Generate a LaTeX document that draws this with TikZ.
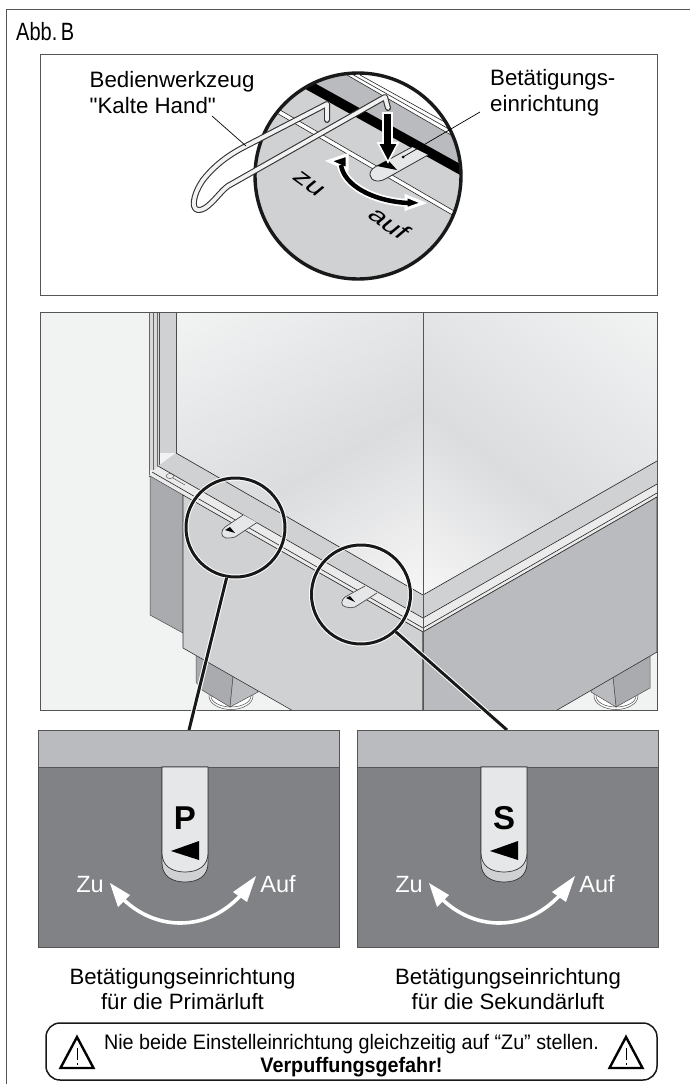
\documentclass[tikz,border=0pt]{standalone}
\usepackage{fontspec}
\setmainfont{Liberation Sans}
\newfontfamily\narrowf[FakeStretch=0.8]{Liberation Sans}
\newfontfamily\warnf[FakeStretch=0.94]{Liberation Sans}
\newfontfamily\widef[FakeStretch=1.3,FakeSlant=0.25]{Liberation Sans}
\newfontfamily\plainf[Ligatures=ResetAll]{Liberation Sans}
\definecolor{bandg}{HTML}{CFD1D3}
\definecolor{bodyr}{HTML}{B9BBBE}
\definecolor{sideg}{HTML}{A9ABAE}
\definecolor{darkp}{HTML}{808285}
\definecolor{bgg}{HTML}{F1F2F2}
\definecolor{framec}{HTML}{555555}
\definecolor{hand}{HTML}{E6E7E8}
\definecolor{ridge}{HTML}{DBDCDE}
\definecolor{glassa}{HTML}{F2F3F3}
\definecolor{glassb}{HTML}{F6F6F6}
\tikzset{
  panel/.style={draw=framec,line width=0.9pt},
  thin line/.style={draw=black!85,line width=0.6pt},
  loupe/.style={circle,minimum size=99pt,inner sep=0pt,draw=black!90,line width=3pt},
  halo/.style={draw=white,line width=5pt},
  lead/.style={draw=black!90,line width=3pt},
  txt/.style={inner sep=0pt,align=left,font=\plainf\fontsize{22.3}{26}\selectfont},
  captxt/.style={inner sep=0pt,align=center,font=\fontsize{22.2}{25}\selectfont},
  tooledge/.style={line join=round,line cap=round},
}
\newcommand{\toolpath}{(327,120) -- (327,104) -- (246,146) .. controls (228,155) and (214,166) .. (203,180) .. controls (196,190) and (193,200) .. (194,206) .. controls (195,211) and (200,211) .. (205,208) .. controls (214,202) and (220,192) .. (228,186) -- (385,97) -- (388,108)}
\newcommand{\lowerpanel}[2]{%
 \begin{scope}[shift={(#1,0)},name prefix=#2-]
  \fill[darkp] (38,767) rectangle (339,947);
  \fill[bodyr] (38,730) rectangle (339,767);
  \draw[panel] (38,730) rectangle (339,947);
  \draw[panel] (38,767) -- (339,767);
  \path[fill=bandg,draw=black!80,line width=.7pt] (162,767) -- (162,863) .. controls (162,876) and (172,882) .. (185,882) .. controls (198,882) and (208,876) .. (208,863) -- (208,767) -- cycle;
  \path[fill=hand,draw=black!80,line width=.7pt] (162,767) -- (162,853) .. controls (162,866) and (172,872) .. (185,872) .. controls (198,872) and (208,866) .. (208,853) -- (208,767) -- cycle;
  \node[inner sep=0pt,font=\bfseries\fontsize{33}{33}\selectfont] (letter) at (185,818) {#2};
  \fill[black] (171,851) -- (199,841) -- (199,860) -- cycle;
  \node[inner sep=0pt,anchor=base,text=white,font=\fontsize{23.5}{26}\selectfont] (zu) at (90,892) {Zu};
  \node[inner sep=0pt,anchor=base,text=white,font=\fontsize{23.5}{26}\selectfont] (auf) at (278,892) {Auf};
  \draw[white,line width=3.6pt] (124,900) .. controls (140,915) and (160,923) .. (180,923) .. controls (205,923) and (225,912) .. (241,895);
  \fill[white] (110,883) -- (130,895) -- (118,907) -- cycle;
  \fill[white] (256,876) -- (233,892) -- (247,902) -- cycle;
 \end{scope}}
\begin{document}
\begin{tikzpicture}[x=1pt,y=-1pt]
\useasboundingbox (0,0) rectangle (690,1084);
\fill[white] (0,0) rectangle (690,1084);
% outer frame
\draw[panel] (6,1084) -- (6,9) -- (690,9);
\node[inner sep=0pt,anchor=west,font=\narrowf\fontsize{25}{28}\selectfont] (abb) at (16,32) {Abb.\kern-2pt\ B};
% top panel
\draw[panel] (40,54) rectangle (657,295);
\coordinate (tc) at (358,176);
\begin{scope}
 \clip (tc) circle[radius=103];
 \fill[bandg] (tc) circle[radius=103];
 \fill[bodyr] (310,48) -- (480,147) -- (480,185) -- (300,75) -- cycle;
 \fill[white] (347,75) -- (480,152) -- (480,60) -- (347,60) -- cycle;
 \draw[thin line] (347,75) -- (470,146) (350,73) -- (470,141) (360,75) -- (470,136);
 \fill[black] (300,75) -- (480,175) -- (480,186) -- (300,86) -- cycle;
 \fill[white] (268,103) -- (480,226) -- (480,231) -- (268,108) -- cycle;
 \draw[thin line] (268,103) -- (480,226) (268,108) -- (480,231);
 % handle
 \path[fill=hand,draw=black!80,line width=.8pt] (412,147) -- (375,167) .. controls (368,171) and (368,180) .. (377,181) .. controls (381,181) and (384,180) .. (387,178) -- (428,155);
 \fill[black] (377,166) -- (397,170) -- (388,160) -- cycle;
 \fill[black] (403,157) circle[radius=1.5];
\end{scope}
\draw[draw=black!90,line width=3.4pt] (tc) circle[radius=103];
% tool
\draw[black!80,line width=6pt,tooledge] \toolpath;
\draw[white!95!black,line width=3.8pt,tooledge] \toolpath;
% down arrow
\path[fill=black,draw=white,line width=1.6pt,line join=miter] (383,113) -- (392,113) -- (392,143) -- (398,143) -- (388,162) -- (378,143) -- (383,143) -- cycle;
% curved arrow
\draw[white,line width=8pt] (341,165) .. controls (344,185) and (372,201) .. (408,203);
\path[draw=white,line width=3pt,fill=black,line join=miter] (329,161) -- (347,155) -- (347,169) -- cycle;
\path[draw=white,line width=3pt,fill=black,line join=miter] (423,203) -- (406,196) -- (406,209) -- cycle;
\draw[black,line width=4.5pt] (341,165) .. controls (344,185) and (372,201) .. (408,203);
% labels
\node[inner sep=0pt,rotate=-36,font=\widef\fontsize{23}{26}\selectfont] (zu) at (308,183) {zu};
\node[inner sep=0pt,rotate=-36,font=\widef\fontsize{23}{26}\selectfont] (auf) at (388,222) {auf};
\node[txt,anchor=west] (tool) at (89.5,92.5) {Bedienwerkzeug\\"Kalte Hand"};
\node[txt,anchor=west] (dev) at (490,92.5) {Betätigungs-\\einrichtung};
\coordinate (toolfrom) at (212,116);
\coordinate (toolend) at (246,146);
\coordinate (devfrom) at (480,112);
\coordinate (devend) at (403,157);
\draw[black,line width=.7pt] (toolfrom) -- (toolend);
\draw[black,line width=.7pt] (devfrom) -- (devend);
% middle panel
\begin{scope}
 \clip (40,312) rectangle (657,710);
 \fill[bgg] (40,312) rectangle (657,710);
 \begin{scope}
  \clip (176,312) -- (423,312) -- (423,595) -- (176,453) -- cycle;
  \begin{scope}[transform canvas={rotate around={30:(300,450)}}]
   \shade[top color=glassa,bottom color=ridge] (-100,268) rectangle (700,476.5);
   \shade[top color=ridge,bottom color=glassb] (-100,476) rectangle (700,636);
  \end{scope}
 \end{scope}
 \begin{scope}
  \clip (423,312) -- (657,312) -- (657,461) -- (423,595) -- cycle;
  \begin{scope}[transform canvas={rotate around={-37:(540,450)}}]
   \shade[top color=glassa,bottom color=ridge] (-100,270) rectangle (1100,488.5);
   \shade[top color=ridge,bottom color=glassb] (-100,488) rectangle (1100,636);
  \end{scope}
 \end{scope}
 % frame
 \fill[bandg] (159,312) rectangle (176,453);
 \fill[white!85!black] (149,312) rectangle (159,470);
 \draw[thin line,draw=black!60] (149,312) -- (149,476) (153,312) -- (153,470) (157,312) -- (157,470);
 \draw[thin line,draw=black!70] (159,312) -- (159,466) (176,312) -- (176,453);
 % bands
 \fill[bandg] (176,453) -- (423,595) -- (657,461) -- (657,484) -- (423,618) -- (158,466) -- cycle;
 \fill[white!92!black] (158,466) -- (423,618) -- (657,484) -- (657,497) -- (423,632) -- (149,476) -- cycle;
 \draw[thin line] (176,453) -- (423,595) -- (657,461);
 \draw[thin line] (158,466) -- (423,618) -- (657,484);
 \draw[thin line] (152,472) -- (423,628) -- (657,493);
 \draw[thin line] (149,476) -- (423,632) -- (657,497);
 \draw[black!75,line width=.4pt] (170,476) ellipse[x radius=4,y radius=2.5] (173,478) -- (185,485);
 % side
 \path[fill=sideg,draw=black!70,line width=.5pt] (150,476) -- (183,495) -- (183,633) -- (150,615) -- cycle;
 % feet
 \path[fill=white,draw=black!70,line width=.5pt] (231,696) ellipse[x radius=22,y radius=13.5];
 \draw[black!70,line width=.5pt] (231,696) ellipse[x radius=20,y radius=11];
 \path[fill=white,draw=black!70,line width=.5pt] (616,696) ellipse[x radius=22,y radius=13.5];
 \draw[black!70,line width=.5pt] (616,696) ellipse[x radius=20,y radius=11];
 \path[fill=sideg,draw=black!70,line width=.5pt] (196,640) -- (196,682) -- (202,690) -- (230,707) -- (233,677) -- (233,650) -- cycle;
 \path[fill=bodyr,draw=black!70,line width=.5pt] (233,677) -- (230,707) -- (258,692) -- (240,660) -- cycle;
 \path[fill=sideg,draw=black!70,line width=.5pt] (650,640) -- (650,688) -- (616,707) -- (613,677) -- (613,650) -- cycle;
 \path[fill=bodyr,draw=black!70,line width=.5pt] (613,677) -- (616,707) -- (591,692) -- (605,665) -- cycle;
 % body
 \path[fill=bandg,draw=black!80,line width=.6pt] (183,495) -- (423,632) -- (423,720) -- (309,720) -- (183,648) -- cycle;
 \path[fill=bodyr,draw=black!80,line width=.6pt] (423,632) -- (657,497) -- (657,652) -- (540,720) -- (423,720) -- cycle;
 % handles
 \path[fill=hand,draw=black!70,line width=.7pt] (243,515) -- (225,527) .. controls (221,530) and (220,537) .. (226,538) .. controls (229,538) and (232,538) .. (235,537) -- (257,522.5);
 \fill[black] (225,530) -- (235,533) -- (230,527) -- cycle;
 \path[fill=hand,draw=black!70,line width=.7pt] (365,586) -- (345,597) .. controls (341,600) and (340,606) .. (346,607) .. controls (349,608) and (352,608) .. (355,607) -- (377,593);
 \fill[black] (346,598) -- (355,602) -- (350,596) -- cycle;
\end{scope}
\draw[draw=framec,line width=1pt] (423,312) -- (423,710);
\draw[panel] (40,312) rectangle (657,710);
% loupes
\node[loupe,preaction={draw=white,line width=5pt}] (c1) at (235.5,527.5) {};
\node[loupe,preaction={draw=white,line width=5pt}] (c2) at (361,594.5) {};
\coordinate (p1) at (189,730);
\coordinate (p2) at (507,730);
\draw[halo] (c1.-100) -- (p1);
\draw[lead] (c1.-100) -- (p1);
\draw[halo] (c2.-47) -- (p2);
\draw[lead] (c2.-47) -- (p2);
% lower panels
\lowerpanel{0}{P}
\lowerpanel{319}{S}
% captions
\node[captxt] (cp) at (182.5,989) {Betätigungseinrichtung\\für die Primärluft};
\node[captxt] (cs) at (508,989) {Betätigungseinrichtung\\für die Sekundärluft};
% warning
\draw[black!90,line width=1.5pt,rounded corners=14pt] (46,1023) rectangle (657,1080);
\node[inner sep=0pt,align=center,font=\warnf\fontsize{21}{23}\selectfont] (warn) at (351.5,1055.5) {Nie beide Einstelleinrichtung gleichzeitig auf “Zu” stellen.\\\textbf{Verpuffungsgefahr!}};
\draw[black,line width=2.4pt,line join=miter] (77,1037) -- (60.5,1068) -- (93.5,1068) -- cycle;
\draw[black,line width=2.4pt,line join=miter] (626,1037) -- (609.5,1068) -- (642.5,1068) -- cycle;
\draw[black,line width=.6pt] (77,1048) -- (77,1060) (77,1062.5) -- (77,1065) (626,1048) -- (626,1060) (626,1062.5) -- (626,1065);
\end{tikzpicture}
\end{document}
